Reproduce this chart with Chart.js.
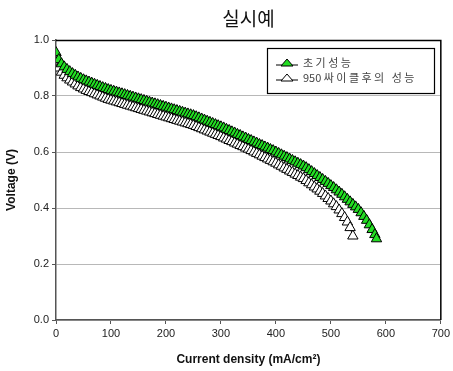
<!DOCTYPE html>
<html><head><meta charset="utf-8">
<script src="https://cdn.jsdelivr.net/npm/chart.js@4/dist/chart.umd.min.js"></script>
<style>html,body{margin:0;padding:0;background:#fff}#wrap{width:453px;height:371px}</style>
</head><body><div id="wrap"><canvas id="c" width="453" height="371"></canvas></div>
<script>
const chartTitle = "실시예";
const seriesLabels = ["초 기 성 능", "950 싸 이 클 후 의   성 능"];
const xTitle = "Current density (mA/cm²)";
const yTitle = "Voltage (V)";

const initX = [0,5,10,15,20,25,30,35,40,45,50,55,60,65,70,75,80,85,90,95,100,105,110,115,120,125,130,135,140,145,150,155,160,165,170,175,180,185,190,195,200,205,210,215,220,225,230,235,240,245,250,255,260,265,270,275,280,285,290,295,300,305,310,315,320,325,330,335,340,345,350,355,360,365,370,375,380,385,390,395,400,405,410,415,420,425,430,435,440,445,450,455,460,465,470,475,480,485,490,495,500,505,510,515,520,525,530,535,540,545,550,555,560,565,570,575,580,583];
const initV = [0.955,0.93,0.915,0.904,0.895,0.887,0.88,0.874,0.868,0.863,0.858,0.854,0.85,0.846,0.842,0.838,0.834,0.83,0.827,0.823,0.82,0.817,0.814,0.811,0.808,0.805,0.802,0.799,0.796,0.793,0.79,0.787,0.784,0.781,0.778,0.775,0.772,0.769,0.766,0.763,0.76,0.757,0.754,0.751,0.748,0.745,0.742,0.739,0.736,0.733,0.73,0.726,0.722,0.718,0.714,0.71,0.706,0.702,0.698,0.694,0.69,0.686,0.681,0.677,0.672,0.668,0.663,0.659,0.654,0.65,0.645,0.641,0.636,0.632,0.627,0.623,0.618,0.614,0.609,0.605,0.60,0.595,0.59,0.585,0.58,0.575,0.57,0.565,0.56,0.555,0.55,0.544,0.537,0.53,0.523,0.516,0.509,0.502,0.495,0.488,0.48,0.473,0.465,0.457,0.449,0.44,0.431,0.422,0.413,0.404,0.395,0.383,0.37,0.356,0.34,0.323,0.305,0.29];

const cycX = [0,5,10,15,20,25,30,35,40,45,50,55,60,65,70,75,80,85,90,95,100,105,110,115,120,125,130,135,140,145,150,155,160,165,170,175,180,185,190,195,200,205,210,215,220,225,230,235,240,245,250,255,260,265,270,275,280,285,290,295,300,305,310,315,320,325,330,335,340,345,350,355,360,365,370,375,380,385,390,395,400,405,410,415,420,425,430,435,440,445,450,455,460,465,470,475,480,485,490,495,500,505,510,515,520,525,530,535,540];
const cycV = [0.925,0.9,0.885,0.874,0.865,0.857,0.85,0.843,0.836,0.83,0.825,0.82,0.816,0.812,0.808,0.804,0.8,0.796,0.792,0.788,0.785,0.782,0.779,0.776,0.773,0.77,0.767,0.764,0.761,0.758,0.755,0.752,0.749,0.746,0.743,0.74,0.737,0.734,0.731,0.728,0.725,0.722,0.719,0.716,0.713,0.71,0.707,0.704,0.701,0.698,0.695,0.691,0.687,0.683,0.679,0.675,0.671,0.667,0.663,0.659,0.655,0.65,0.646,0.641,0.637,0.632,0.628,0.623,0.619,0.614,0.61,0.605,0.60,0.595,0.59,0.585,0.58,0.575,0.57,0.565,0.56,0.554,0.549,0.543,0.538,0.532,0.527,0.521,0.516,0.51,0.505,0.498,0.49,0.483,0.475,0.468,0.46,0.452,0.443,0.434,0.425,0.415,0.405,0.393,0.38,0.366,0.35,0.33,0.30];

const xTicks = [0,100,200,300,400,500,600,700];
const yTicks = [0.0,0.2,0.4,0.6,0.8,1.0];

const pts = (xs, ys) => xs.map((x, i) => ({x: x, y: ys[i]}));

const frame = {
  id: 'frame',
  afterDraw(chart) {
    const {ctx, chartArea: a} = chart;
    ctx.save();
    ctx.strokeStyle = '#000';
    ctx.lineWidth = 1.5;
    ctx.beginPath();
    ctx.moveTo(a.left, a.top + 0.5);
    ctx.lineTo(a.right, a.top + 0.5);
    ctx.lineTo(a.right, a.bottom);
    ctx.stroke();
    ctx.fillStyle = '#111';
    ctx.font = '19px "Noto Sans CJK KR", sans-serif';
    ctx.textAlign = 'center';
    ctx.textBaseline = 'middle';
    ctx.fillText(chartTitle, (a.left + a.right) / 2, 19);
    const bx = 267, by = 48, bw = 167, bh = 45;
    ctx.fillStyle = '#fff';
    ctx.fillRect(bx, by, bw, bh);
    ctx.lineWidth = 1.2;
    ctx.strokeStyle = '#000';
    ctx.strokeRect(bx + 0.5, by + 0.5, bw, bh);
    chart.data.datasets.forEach((ds, i) => {
      const y = 63 + i * 15;
      ctx.strokeStyle = '#000';
      ctx.lineWidth = 1;
      ctx.beginPath();
      ctx.moveTo(276, y + 2); ctx.lineTo(298, y + 2); ctx.stroke();
      ctx.beginPath();
      ctx.moveTo(287, y - 4); ctx.lineTo(293, y + 3); ctx.lineTo(281, y + 3); ctx.closePath();
      ctx.fillStyle = ds.backgroundColor; ctx.fill(); ctx.stroke();
      ctx.fillStyle = '#444';
      ctx.font = '11px "Noto Sans CJK KR", sans-serif';
      ctx.textAlign = 'left';
      ctx.fillText(ds.label, 303, y);
    });
    ctx.restore();
  }
};

new Chart(document.getElementById('c'), {
  type: 'scatter',
  data: {
    datasets: [
      { label: seriesLabels[0], data: pts(initX, initV), showLine: true, borderColor: '#000', borderWidth: 1,
        pointStyle: 'triangle', pointRadius: 6, pointBackgroundColor: '#22dd22', pointBorderColor: '#000', pointBorderWidth: 1,
        backgroundColor: '#22dd22', order: 1 },
      { label: seriesLabels[1], data: pts(cycX, cycV), showLine: true, borderColor: '#000', borderWidth: 1,
        pointStyle: 'triangle', pointRadius: 6, pointBackgroundColor: '#fff', pointBorderColor: '#000', pointBorderWidth: 1,
        backgroundColor: '#fff', order: 2 }
    ]
  },
  options: {
    responsive: false, animation: false, devicePixelRatio: 1,
    layout: { padding: { top: 40, right: 12, left: 0, bottom: 0 } },
    plugins: { legend: { display: false }, tooltip: { enabled: false } },
    scales: {
      x: {
        type: 'linear', min: 0, max: 700,
        afterBuildTicks: s => { s.ticks = xTicks.map(v => ({value: v})); },
        afterFit: s => { s.height = 51; },
        grid: { drawOnChartArea: false, tickLength: 4, color: '#555' },
        border: { color: '#555', width: 1.5 },
        ticks: { color: '#222', font: { family: 'Liberation Sans', size: 11 }, padding: 3 },
        title: { display: true, text: xTitle, color: '#111', font: { family: 'Liberation Sans', size: 12, weight: 'bold' }, padding: { top: 6 } }
      },
      y: {
        type: 'linear', min: 0, max: 1.0,
        afterBuildTicks: s => { s.ticks = yTicks.map(v => ({value: v})); },
        afterFit: s => { s.width = 56; },
        grid: { color: '#b8b8b8', tickLength: 4, tickColor: '#555' },
        border: { color: '#555', width: 1.5 },
        ticks: { color: '#222', font: { family: 'Liberation Sans', size: 11 }, padding: 3, callback: v => v.toFixed(1) },
        title: { display: true, text: yTitle, color: '#111', font: { family: 'Liberation Sans', size: 12, weight: 'bold' }, padding: { bottom: 2 } }
      }
    }
  },
  plugins: [frame]
});
</script></body></html>
